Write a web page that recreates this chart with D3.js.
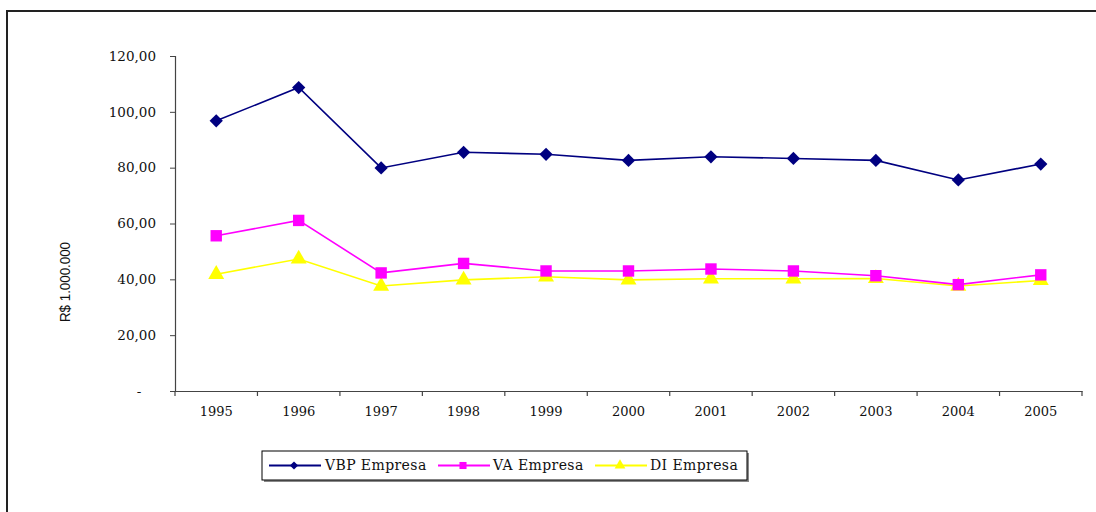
<!DOCTYPE html>
<html>
<head>
<meta charset="utf-8">
<script src="https://cdn.jsdelivr.net/npm/d3@7"></script>
<style>
  html, body { margin: 0; padding: 0; background: #fff; }
  svg { display: block; }
</style>
</head>
<body>
<svg id="chart" width="1096" height="512"></svg>
<script>
const years = ["1995","1996","1997","1998","1999","2000","2001","2002","2003","2004","2005"];
const vbpEmpresa = [96.8, 108.7, 79.9, 85.5, 84.8, 82.6, 83.9, 83.3, 82.6, 75.6, 81.3];
const vaEmpresa  = [55.6, 61.1, 42.3, 45.7, 43.0, 43.0, 43.7, 43.0, 41.3, 38.1, 41.6];
const diEmpresa  = [41.8, 47.3, 37.6, 39.8, 40.9, 39.8, 40.2, 40.2, 40.3, 37.6, 39.6];
const yTicks = [0, 20, 40, 60, 80, 100, 120];
const seriesNames = ["VBP Empresa", "VA Empresa", "DI Empresa"];
const seriesColors = ["#000080", "#FF00FF", "#FFFF00"];
const yTitle = "R$ 1.000.000";

const svg = d3.select("#chart");
const serif = "'DejaVu Serif', serif";

// outer frame
svg.append("rect")
  .attr("x", 7).attr("y", 11).attr("width", 1200).attr("height", 600)
  .attr("fill", "none").attr("stroke", "#222").attr("stroke-width", 2);

const x = d3.scaleBand().domain(years).range([175, 1082]).padding(0);
const y = d3.scaleLinear().domain([0, 120]).range([391, 56]);

// y axis
const yAxis = d3.axisLeft(y).tickValues(yTicks).tickSize(5).tickPadding(14)
  .tickFormat(d => d === 0 ? "-" : d3.format(".2f")(d).replace(".", ","));
const gy = svg.append("g").attr("transform", "translate(175,0)").call(yAxis);
gy.select(".domain").attr("stroke", "#444").attr("stroke-width", 1.2);
gy.selectAll(".tick line").attr("stroke", "#444");
gy.selectAll(".tick text").attr("font-family", serif).attr("font-size", "13.5px").attr("fill", "#111");
gy.selectAll(".tick text").filter(d => d === 0).attr("x", -36).attr("text-anchor", "middle");

// x axis
const xAxis = d3.axisBottom(x).tickSize(0).tickPadding(16);
const gx = svg.append("g").attr("transform", "translate(0,391)").call(xAxis);
gx.select(".domain").attr("stroke", "#444").attr("stroke-width", 1.2);
gx.selectAll(".tick text").attr("font-family", serif).attr("font-size", "13px").attr("fill", "#111");
// boundary ticks
const edges = years.map(d => x(d)).concat([x(years[years.length-1]) + x.bandwidth()]);
svg.append("g").selectAll("line").data(edges).join("line")
  .attr("x1", d => d).attr("x2", d => d).attr("y1", 391).attr("y2", 396)
  .attr("stroke", "#444").attr("stroke-width", 1.2);

// y title
svg.append("text")
  .attr("transform", "translate(70,282) rotate(-90)")
  .attr("text-anchor", "middle")
  .attr("font-family", "'Liberation Sans', sans-serif")
  .attr("font-size", "14px")
  .attr("textLength", 80).attr("lengthAdjust", "spacingAndGlyphs")
  .attr("fill", "#111")
  .text(yTitle);

const cx = d => x(d) + x.bandwidth() / 2;
const data = [vbpEmpresa, vaEmpresa, diEmpresa];
const symbols = [d3.symbolSquare, d3.symbolSquare, d3.symbolTriangle];
const symSizes = [88, 130, 110];
const line = d3.line().x((d, i) => cx(years[i])).y(d => y(d));

// draw in order DI, VA, VBP so VA on top of DI
[2, 1, 0].forEach(k => {
  svg.append("path").datum(data[k])
    .attr("d", line).attr("fill", "none")
    .attr("stroke", seriesColors[k]).attr("stroke-width", 1.6);
  svg.append("g").selectAll("path").data(data[k]).join("path")
    .attr("transform", (d, i) => `translate(${cx(years[i])},${y(d)})` + (k === 0 ? " rotate(45)" : ""))
    .attr("d", d3.symbol().type(symbols[k]).size(symSizes[k]))
    .attr("fill", seriesColors[k]);
});

// legend
const lg = svg.append("g");
lg.append("rect").attr("x", 264).attr("y", 453).attr("width", 485).attr("height", 29).attr("fill", "#888");
lg.append("rect").attr("x", 262).attr("y", 451).attr("width", 485).attr("height", 29)
  .attr("fill", "#fff").attr("stroke", "#000").attr("stroke-width", 1);
const legX = [269, 438, 595];
const legTX = [325, 493, 650];
const legSizes = [34, 50, 50];
seriesNames.forEach((n, k) => {
  lg.append("line").attr("x1", legX[k]).attr("x2", legX[k] + 52).attr("y1", 465.5).attr("y2", 465.5)
    .attr("stroke", seriesColors[k]).attr("stroke-width", 2);
  lg.append("path")
    .attr("transform", `translate(${legX[k] + 25},465.5)` + (k === 0 ? " rotate(45)" : ""))
    .attr("d", d3.symbol().type(symbols[k]).size(legSizes[k]))
    .attr("fill", seriesColors[k]);
  lg.append("text").attr("x", legTX[k]).attr("y", 470)
    .attr("font-family", serif).attr("font-size", "14px").attr("letter-spacing", "0.4px")
    .attr("fill", "#111").text(n);
});
</script>
</body>
</html>
